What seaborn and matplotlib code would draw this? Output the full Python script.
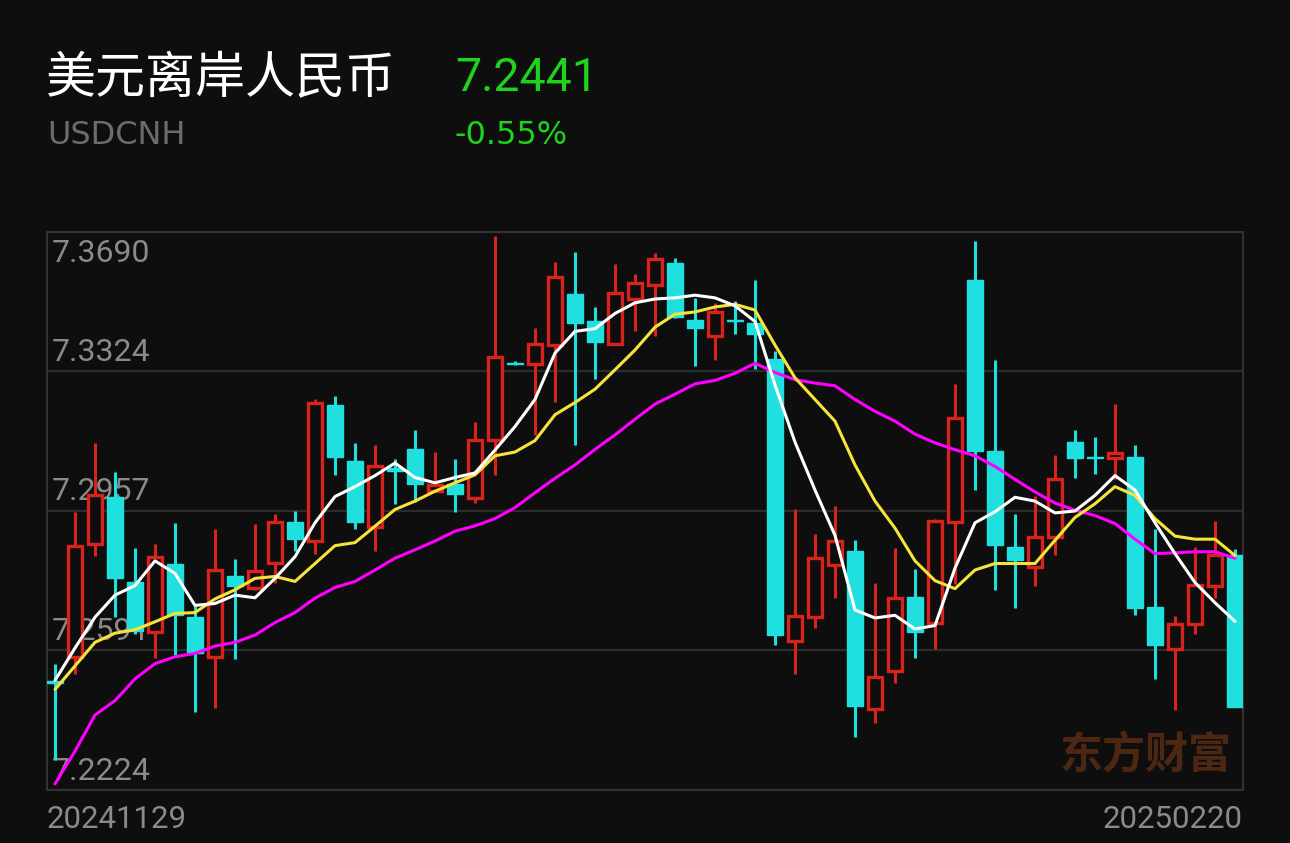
import numpy as np
import pandas as pd
import matplotlib
matplotlib.use("Agg")
import matplotlib.pyplot as plt
import seaborn as sns

# ---------------- data ----------------
title_cn = "美元离岸人民币"
symbol = "USDCNH"
last_price = "7.2441"
change_pct = "-0.55%"
first_date = "20241129"
last_date = "20250220"
watermark = "东方财富"

opens = [7.2510, 7.2573, 7.2869, 7.2994, 7.2770, 7.2638, 7.2818, 7.2678, 7.2573, 7.2786,
         7.2756, 7.2821, 7.2929, 7.2878, 7.3235, 7.3088, 7.2916, 7.3069, 7.3121, 7.3009,
         7.3028, 7.2992, 7.3143, 7.3347, 7.3343, 7.3393, 7.3526, 7.3457, 7.3396, 7.3514,
         7.3550, 7.3609, 7.3458, 7.3417, 7.3461, 7.3450, 7.3357, 7.2616, 7.2678, 7.2816,
         7.2852, 7.2438, 7.2537, 7.2730, 7.2662, 7.2928, 7.3564, 7.3114, 7.2862, 7.2811,
         7.2888, 7.3138, 7.3100, 7.3095, 7.3099, 7.2705, 7.2595, 7.2659, 7.2761, 7.2842]
highs = [7.2554, 7.2954, 7.3135, 7.3059, 7.2859, 7.2870, 7.2926, 7.2707, 7.2911, 7.2830,
         7.2924, 7.2948, 7.2957, 7.3250, 7.3259, 7.3135, 7.3131, 7.3093, 7.3169, 7.3112,
         7.3093, 7.3190, 7.3679, 7.3350, 7.3437, 7.3612, 7.3638, 7.3493, 7.3605, 7.3580,
         7.3636, 7.3621, 7.3517, 7.3504, 7.3510, 7.3564, 7.3378, 7.2962, 7.2897, 7.2969,
         7.2880, 7.2767, 7.2859, 7.2804, 7.2937, 7.3290, 7.3666, 7.3355, 7.2948, 7.2997,
         7.3105, 7.3171, 7.3152, 7.3238, 7.3131, 7.2910, 7.2681, 7.2862, 7.2931, 7.2856]
lows = [7.2302, 7.2530, 7.2838, 7.2678, 7.2635, 7.2571, 7.2578, 7.2430, 7.2440, 7.2568,
        7.2749, 7.2769, 7.2852, 7.2845, 7.3052, 7.2909, 7.2852, 7.2976, 7.2981, 7.3007,
        7.2954, 7.2978, 7.3052, 7.3340, 7.3157, 7.3243, 7.3131, 7.3304, 7.3393, 7.3431,
        7.3417, 7.3465, 7.3337, 7.3355, 7.3421, 7.3331, 7.2606, 7.2530, 7.2649, 7.2728,
        7.2363, 7.2399, 7.2505, 7.2570, 7.2595, 7.2764, 7.3013, 7.2749, 7.2702, 7.2759,
        7.2842, 7.3043, 7.3054, 7.3040, 7.2683, 7.2516, 7.2433, 7.2635, 7.2728, 7.2441]
closes = [7.2506, 7.2866, 7.3000, 7.2781, 7.2642, 7.2835, 7.2685, 7.2585, 7.2802, 7.2761,
          7.2800, 7.2929, 7.2883, 7.3242, 7.3099, 7.2928, 7.3076, 7.3061, 7.3029, 7.3026,
          7.3002, 7.3143, 7.3362, 7.3343, 7.3397, 7.3572, 7.3452, 7.3402, 7.3529, 7.3555,
          7.3620, 7.3467, 7.3438, 7.3481, 7.3458, 7.3421, 7.2630, 7.2681, 7.2833, 7.2878,
          7.2446, 7.2521, 7.2728, 7.2640, 7.2931, 7.3202, 7.3114, 7.2867, 7.2828, 7.2889,
          7.3042, 7.3097, 7.3097, 7.3109, 7.2702, 7.2605, 7.2659, 7.2762, 7.2842, 7.2441]

ma5 = [7.2512, 7.2597, 7.2678, 7.2736, 7.2761, 7.2826, 7.2793, 7.2709, 7.2714, 7.2736,
       7.2729, 7.2780, 7.2837, 7.2926, 7.2995, 7.3021, 7.3050, 7.3083, 7.3045, 7.3031,
       7.3045, 7.3057, 7.3117, 7.3179, 7.3250, 7.3372, 7.3429, 7.3436, 7.3476, 7.3504,
       7.3514, 7.3517, 7.3524, 7.3517, 7.3496, 7.3455, 7.3288, 7.3138, 7.3012, 7.2893,
       7.2697, 7.2676, 7.2683, 7.2647, 7.2656, 7.2807, 7.2926, 7.2955, 7.2993, 7.2983,
       7.2952, 7.2957, 7.2998, 7.3050, 7.3012, 7.2926, 7.2845, 7.2769, 7.2716, 7.2667]
ma10 = [7.2488, 7.2550, 7.2612, 7.2636, 7.2645, 7.2666, 7.2688, 7.2690, 7.2726, 7.2750,
        7.2780, 7.2785, 7.2772, 7.2819, 7.2866, 7.2874, 7.2917, 7.2961, 7.2983, 7.3009,
        7.3031, 7.3052, 7.3102, 7.3112, 7.3142, 7.3210, 7.3242, 7.3277, 7.3328, 7.3380,
        7.3440, 7.3474, 7.3480, 7.3493, 7.3500, 7.3485, 7.3393, 7.3307, 7.3250, 7.3193,
        7.3078, 7.2983, 7.2912, 7.2826, 7.2774, 7.2753, 7.2802, 7.2819, 7.2819, 7.2819,
        7.2880, 7.2940, 7.2976, 7.3021, 7.2998, 7.2937, 7.2891, 7.2883, 7.2883, 7.2840]
ma20 = [7.2240, 7.2326, 7.2421, 7.2459, 7.2516, 7.2556, 7.2574, 7.2583, 7.2602, 7.2612,
        7.2631, 7.2664, 7.2690, 7.2728, 7.2756, 7.2772, 7.2802, 7.2833, 7.2855, 7.2878,
        7.2904, 7.2918, 7.2937, 7.2966, 7.3005, 7.3043, 7.3078, 7.3119, 7.3157, 7.3198,
        7.3238, 7.3264, 7.3291, 7.3300, 7.3319, 7.3345, 7.3321, 7.3302, 7.3293, 7.3286,
        7.3250, 7.3219, 7.3193, 7.3159, 7.3136, 7.3118, 7.3102, 7.3074, 7.3040, 7.3007,
        7.2978, 7.2959, 7.2945, 7.2924, 7.2883, 7.2845, 7.2847, 7.2850, 7.2850, 7.2833]

y_levels = [7.3690, 7.3324, 7.2957, 7.2591, 7.2224]

# ---------------- style ----------------
BG = "#0e0e0e"
RED = "#d8231d"
CYAN = "#1fe0df"
GREEN = "#1ed21e"
GRID = "#2c2c2c"
LABEL = "#8a8a8a"

sns.set_theme(style="dark")
plt.rcParams['font.family'] = ['Roboto', 'Noto Sans CJK SC', 'DejaVu Sans']

W, H = 1290, 843
fig = plt.figure(figsize=(W / 100, H / 100), dpi=100, facecolor=BG)
L, R, T, B = 47, 1243, 232, 790
ax = fig.add_axes([L / W, 1 - B / H, (R - L) / W, (B - T) / H])
ax.set_facecolor(BG)

df = pd.DataFrame({"open": opens, "high": highs, "low": lows, "close": closes,
                   "MA5": ma5, "MA10": ma10, "MA20": ma20})
df["idx"] = np.arange(len(df))
df["up"] = df["close"] >= df["open"]
min_h = 0.00035
df["bottom"] = df[["open", "close"]].min(axis=1)
df["height"] = (df["close"] - df["open"]).abs().clip(lower=min_h)
df.loc[(df["close"] - df["open"]).abs() < min_h, "bottom"] -= min_h / 2

up = df[df["up"]]
dn = df[~df["up"]]

# wicks
ax.vlines(up["idx"], up["low"], up["high"], color=RED, lw=2.2, zorder=2)
ax.vlines(dn["idx"], dn["low"], dn["high"], color=CYAN, lw=2.2, zorder=2)
# bodies
ax.bar(up["idx"], up["height"], bottom=up["bottom"], width=0.71,
       facecolor=BG, edgecolor=RED, linewidth=2.4, zorder=3)
ax.bar(dn["idx"], dn["height"], bottom=dn["bottom"], width=0.8,
       facecolor=CYAN, edgecolor=CYAN, linewidth=1.0, zorder=3)

# moving averages
sns.lineplot(data=df, x="idx", y="MA20", color="#ff00ff", lw=2.2, ax=ax, zorder=4)
sns.lineplot(data=df, x="idx", y="MA10", color="#f7e33a", lw=2.2, ax=ax, zorder=5)
sns.lineplot(data=df, x="idx", y="MA5", color="#ffffff", lw=2.2, ax=ax, zorder=6)

ax.set_xlim(-0.4, len(df) - 0.6)
ax.set_ylim(y_levels[-1], y_levels[0])
ax.set_yticks(y_levels)
ax.set_xticks([])
ax.tick_params(axis="y", length=0, labelleft=False)
ax.set_xlabel("")
ax.set_ylabel("")
ax.yaxis.grid(True, color=GRID, lw=1.6)
ax.xaxis.grid(False)
for s in ax.spines.values():
    s.set_visible(True)
    s.set_color("#333333")
    s.set_linewidth(1.5)

for i, v in enumerate(y_levels):
    dy = -21 if i == 0 else 19
    ax.annotate(f"{v:.4f}", xy=(0, v), xycoords=("axes fraction", "data"),
                xytext=(5, dy), textcoords="offset pixels",
                ha="left", va="center", fontsize=23, color=LABEL, zorder=1)

# bottom date labels
fig.text(L / W, 1 - 819 / H, first_date, ha="left", va="center", fontsize=22.5, color=LABEL)
fig.text(R / W, 1 - 819 / H, last_date, ha="right", va="center", fontsize=22.5, color=LABEL)

# header
fig.text(46 / W, 1 - 79 / H, title_cn, ha="left", va="center", fontsize=36,
         color="white", family=["Noto Sans CJK SC", "DejaVu Sans"])
fig.text(455 / W, 1 - 78 / H, last_price, ha="left", va="center", fontsize=33.5, color=GREEN)
fig.text(47 / W, 1 - 136 / H, symbol, ha="left", va="center", fontsize=23,
         color="#6c6c6c", family=["DejaVu Sans"])
fig.text(454 / W, 1 - 136 / H, change_pct, ha="left", va="center", fontsize=23,
         color=GREEN, family=["DejaVu Sans"])

# watermark
fig.text(1231 / W, 1 - 755 / H, watermark, ha="right", va="center", fontsize=31,
         fontweight="bold", color="#4d2712", family=["Noto Sans CJK SC", "DejaVu Sans"])

fig.savefig("out.png", dpi=100, facecolor=BG)
